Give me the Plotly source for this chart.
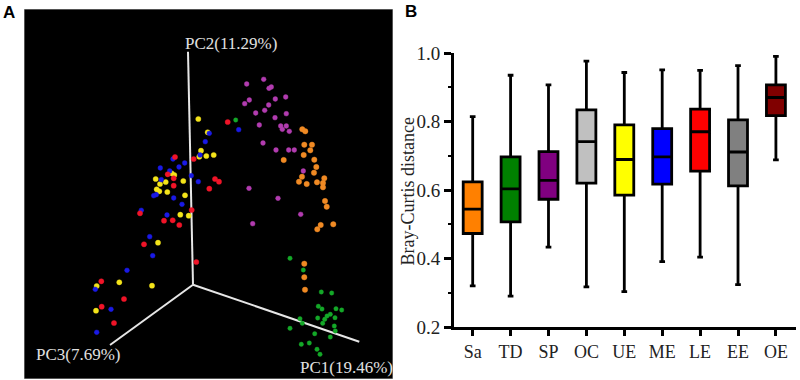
import plotly.graph_objects as go

# ---------- Panel B: box plot values ----------
categories = ["Sa", "TD", "SP", "OC", "UE", "ME", "LE", "EE", "OE"]
low = [0.320, 0.290, 0.433, 0.317, 0.303, 0.391, 0.404, 0.324, 0.688]
q1 = [0.473, 0.507, 0.573, 0.620, 0.585, 0.617, 0.655, 0.612, 0.817]
median = [0.544, 0.603, 0.628, 0.741, 0.689, 0.697, 0.770, 0.711, 0.870]
q3 = [0.624, 0.697, 0.712, 0.834, 0.790, 0.779, 0.836, 0.805, 0.907]
high = [0.814, 0.935, 0.907, 0.976, 0.943, 0.951, 0.949, 0.963, 0.990]
box_colors = ["#ff8000", "#008000", "#800080", "#c0c0c0", "#ffff00",
              "#0000ff", "#ff0000", "#808080", "#800000"]

# ---------- Panel A: ordination points ----------
yellow_x = [198.3, 207.7, 201, 206.3, 199.3, 155.7, 165.7, 160, 156.7, 159.3, 167.3, 174.3, 171.7, 183.3, 185, 213.7,
            180.3, 188.7, 158, 119.3, 152, 96.7, 96]
yellow_y = [119, 132.3, 150.7, 156, 156.7, 179, 182, 184, 189.3, 191.3, 192, 175, 173.3, 181, 195.3, 155,
            214.7, 215.7, 242.7, 282.3, 285.7, 286, 310.7]
blue_x = [205.3, 200, 173, 184.7, 179, 160.3, 169.7, 161.3, 191.3, 198.3, 153.7, 156.3, 173.7, 238.7, 209.3,
          141.3, 182, 167, 149.7, 152.7, 127, 95.3, 111, 96.7]
blue_y = [141.7, 155, 159, 163, 167, 168, 171, 179.7, 175.7, 181.7, 195.7, 194.7, 198, 129.7, 133.3,
          210.3, 204.3, 215, 236.7, 255.7, 270.3, 289.3, 309.3, 332.3]
red_x = [193.7, 175, 167.7, 173.7, 173.7, 209.3, 227.7, 215, 219, 140, 191.7, 164, 172.7, 179.3, 144, 196.3,
         101.3, 124, 101.7, 114]
red_y = [159, 157, 174.3, 178.3, 185.7, 188.7, 122, 179, 181.7, 213.3, 210, 220.7, 220.3, 225, 244.3, 262,
         281.3, 299, 306.7, 323]
purple_x = [246.7, 263.7, 269, 271.3, 285.7, 275.3, 249.3, 244.7, 268.7, 264.7, 255.7, 286.3, 275, 259.3, 280.7,
            286.3, 282.3, 289.3, 263, 276, 288.7, 294.3, 303.3, 249, 278, 252.7, 300.7]
purple_y = [84, 79.3, 88.3, 87, 97, 99, 100, 103.7, 105, 110.3, 113, 113.7, 117.7, 125, 126,
            126, 129.3, 131.3, 143, 150, 150, 150, 171, 188.3, 198.3, 223.7, 214.3]
orange_x = [302.3, 305.3, 304.3, 312, 310.3, 303.7, 283.7, 314.3, 316.3, 314, 302, 324.3, 299, 306.7, 317, 323, 323,
            325, 326.7, 320.7, 317.3, 333.3, 304.3, 304.3, 305]
orange_y = [129.3, 131.3, 144.7, 144.7, 150.3, 155, 160, 159.7, 167, 172.7, 176.7, 178.3, 181.7, 184, 182.3, 183, 187.3,
            201, 206.7, 225, 229.3, 224.3, 263.7, 277.3, 289.7]
green_x = [235.7, 290, 303.3, 321.3, 331.7, 318.3, 322, 336, 341.7, 330.3, 327, 324.7, 317.7, 335, 322.7, 300, 302.3,
           290, 334.3, 335.3, 314.7, 330.3, 309.3, 301.3, 317, 320]
green_y = [120, 258.3, 270, 292, 293, 306.3, 309, 308.7, 310, 314.3, 316, 319.3, 318, 317.7, 323.3, 318.7, 323.3,
           328.3, 326, 331, 333.7, 337, 343, 344.3, 349.3, 354.3]

origin = (193, 284.7)
pc_axis_ends = [(188, 51.7), (110, 345), (359.3, 341.7)]
pc_labels = ["PC2(11.29%)", "PC3(7.69%)", "PC1(19.46%)"]
pc_label_x = [231, 78.5, 346]
pc_label_y = [44, 354, 367]

point_groups = [
    (yellow_x, yellow_y, "#f4e41a", "rgba(244,228,26,0.4)", 5.2),
    (blue_x, blue_y, "#1a1ae6", "rgba(26,26,230,0.4)", 4.8),
    (red_x, red_y, "#f01428", "rgba(240,20,40,0.4)", 5.2),
    (purple_x, purple_y, "#b23cb0", "rgba(178,60,176,0.4)", 4.8),
    (orange_x, orange_y, "#f08a24", "rgba(240,138,36,0.4)", 5.4),
    (green_x, green_y, "#14a828", "rgba(20,168,40,0.4)", 4.4),
]

fig = go.Figure()

for ex, ey in pc_axis_ends:
    fig.add_trace(go.Scatter(x=[origin[0], ex], y=[origin[1], ey], mode="lines",
                             line=dict(color="#e6e6e6", width=2), hoverinfo="skip",
                             xaxis="x", yaxis="y", showlegend=False))
for gx, gy, col, halo, size in point_groups:
    fig.add_trace(go.Scatter(x=gx, y=gy, mode="markers",
                             marker=dict(color=col, size=size, line=dict(width=1, color=halo)),
                             xaxis="x", yaxis="y", showlegend=False))

for i, cat in enumerate(categories):
    fig.add_trace(go.Box(x=[cat], lowerfence=[low[i]], q1=[q1[i]], median=[median[i]],
                         q3=[q3[i]], upperfence=[high[i]],
                         fillcolor=box_colors[i], line=dict(color="black", width=2.8),
                         width=0.5, whiskerwidth=0.3, xaxis="x2", yaxis="y2",
                         showlegend=False))

annotations = [
    dict(text=t, x=x, y=y, xref="x", yref="y", showarrow=False,
         font=dict(family="Liberation Serif", size=17, color="#e0e0e0"))
    for t, x, y in zip(pc_labels, pc_label_x, pc_label_y)
]
annotations += [
    dict(text="<b>A</b>", x=8.5, y=12.5, xref="paper", yref="paper", showarrow=False,
         xanchor="center", yanchor="middle"),
    dict(text="<b>B</b>", x=411, y=12, xref="paper", yref="paper", showarrow=False,
         xanchor="center", yanchor="middle"),
    dict(text="Bray-Curtis distance", x=408, y=191.5, xref="paper", yref="paper",
         showarrow=False, textangle=-90, xanchor="center", yanchor="middle",
         font=dict(family="Liberation Serif", size=18, color="#222222")),
]
for a in annotations:
    if a["xref"] == "paper":
        a["x"] = a["x"] / 800
        a["y"] = 1 - a["y"] / 380
        if "font" not in a:
            a["font"] = dict(family="Liberation Sans", size=17, color="black")

fig.update_layout(
    width=800, height=380, margin=dict(l=0, r=0, t=0, b=0, autoexpand=False),
    paper_bgcolor="white", plot_bgcolor="white", showlegend=False,
    annotations=annotations,
    shapes=[dict(type="rect", xref="x", yref="y", x0=24, x1=393, y0=9, y1=379,
                 fillcolor="black", line=dict(color="#a8a8a8", width=1), layer="below")],
    xaxis=dict(domain=[24 / 800, 393 / 800], range=[24, 393], visible=False, fixedrange=True),
    yaxis=dict(domain=[1 / 380, 371 / 380], range=[379, 9], visible=False, fixedrange=True),
    xaxis2=dict(domain=[454 / 800, 796 / 800], anchor="y2", type="category",
                categoryorder="array", categoryarray=categories,
                range=[-0.493, 8.53], showline=True, linecolor="black", linewidth=2.8,
                ticks="outside", ticklen=6, tickwidth=2.8, tickcolor="black",
                showgrid=False, zeroline=False, fixedrange=True,
                tickfont=dict(family="Liberation Serif", size=18, color="#222222")),
    yaxis2=dict(domain=[1 - 327 / 380, 1 - 53 / 380], anchor="x2", range=[0.2, 1.0],
                tickvals=[0.2, 0.4, 0.6, 0.8, 1.0], ticktext=["0.2", "0.4", "0.6", "0.8", "1.0"],
                showline=True, linecolor="black", linewidth=2.8,
                ticks="outside", ticklen=7, tickwidth=2.8, tickcolor="black",
                minor=dict(tickvals=[0.3, 0.5, 0.7, 0.9], ticks="outside", ticklen=3,
                           tickwidth=2, tickcolor="black"),
                showgrid=False, zeroline=False, fixedrange=True,
                tickfont=dict(family="Liberation Serif", size=19, color="#222222")),
)

fig.write_html("out.html", config=dict(displayModeBar=False),
               post_script="document.body.style.margin='0';")
